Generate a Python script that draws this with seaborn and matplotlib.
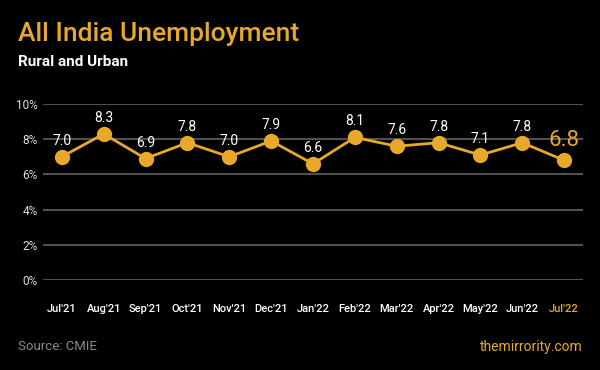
import matplotlib
matplotlib.use("Agg")
import matplotlib.pyplot as plt
import seaborn as sns
import pandas as pd

months = ["Jul'21", "Aug'21", "Sep'21", "Oct'21", "Nov'21", "Dec'21", "Jan'22",
          "Feb'22", "Mar'22", "Apr'22", "May'22", "Jun'22", "Jul'22"]
rates = [7.0, 8.3, 6.9, 7.8, 7.0, 7.9, 6.6, 8.1, 7.6, 7.8, 7.1, 7.8, 6.8]
yticks = [0, 2, 4, 6, 8, 10]

ORANGE = "#E8A82A"
BG = "#000000"
GRID = "#505050"

sns.set_theme(style="dark")
plt.rcParams['font.family'] = ['Roboto', 'DejaVu Sans']

df = pd.DataFrame({"idx": range(len(months)), "rate": rates})

fig = plt.figure(figsize=(6, 3.7), dpi=100, facecolor=BG)
ax = fig.add_axes([43/600, 1-280/370, 540/600, 176/370])
ax.set_facecolor(BG)

for t in yticks:
    ax.axhline(t, color=GRID, lw=1.5, zorder=1)

sns.lineplot(data=df, x="idx", y="rate", ax=ax, color=ORANGE, lw=2,
             marker="o", markersize=11, markeredgewidth=0, zorder=3, clip_on=False)

for i, v in enumerate(rates):
    if i == len(rates) - 1:
        ax.annotate(f"{v:.1f}", (i, v), xytext=(0, 6.5), textcoords="offset points",
                    ha="center", va="bottom", color=ORANGE, fontsize=16)
    else:
        ax.annotate(f"{v:.1f}", (i, v), xytext=(0, 6.5), textcoords="offset points",
                    ha="center", va="bottom", color="white", fontsize=10)

ax.set_xlim(-0.45, 12.45)
ax.set_ylim(0, 10)
ax.set_yticks(yticks)
ax.set_yticklabels([f"{t}%" for t in yticks], color="#dddddd", fontsize=8.5)
ax.set_xticks(range(len(months)))
ax.set_xticklabels(months, fontsize=8, color="white", fontweight="medium")
ax.get_xticklabels()[-1].set_color(ORANGE)
ax.tick_params(axis="x", pad=17, length=0)
ax.tick_params(axis="y", pad=4, length=0)
ax.set_xlabel("")
ax.set_ylabel("")
for s in ax.spines.values():
    s.set_visible(False)
ax.grid(False)

fig.text(18/600, 1-34/370, "All India Unemployment", color=ORANGE, fontsize=19,
         fontweight="medium", va="center", ha="left")
fig.text(18/600, 1-62/370, "Rural and Urban", color="white", fontsize=11,
         fontweight="bold", va="center", ha="left")
fig.text(18/600, 1-347/370, "Source: CMIE", color="#8a8a8a", fontsize=9.5,
         va="center", ha="left")
fig.text(583/600, 1-347/370, "themirrority.com", color=ORANGE, fontsize=10,
         va="center", ha="right")

fig.savefig("out.png", dpi=100, facecolor=BG)
